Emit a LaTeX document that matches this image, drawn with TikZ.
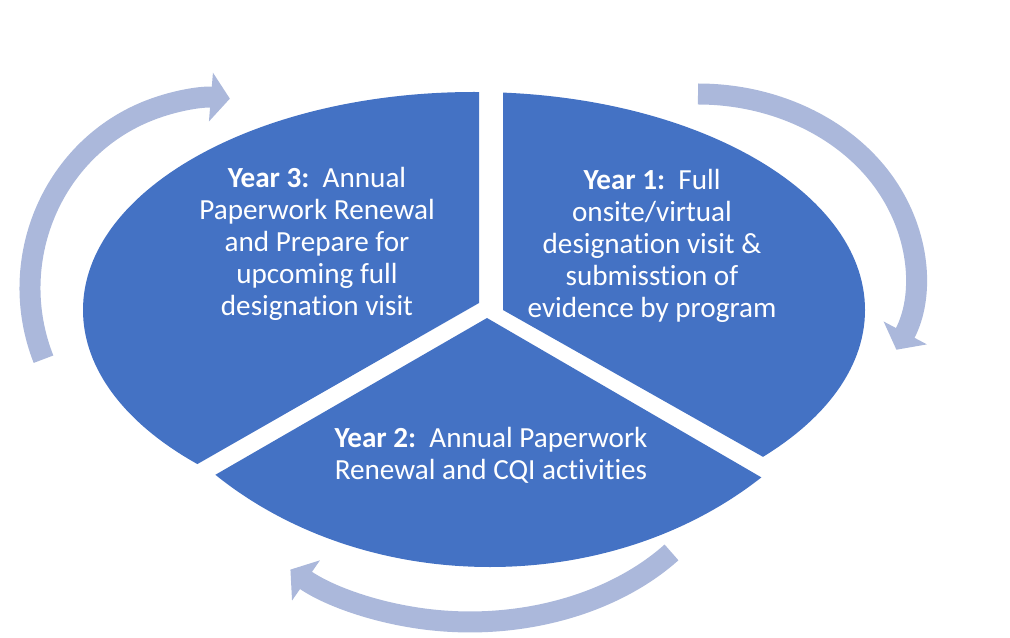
\documentclass[tikz,border=0pt]{standalone}
\usepackage{fontspec}
\setmainfont[Ligatures=NoCommon]{Carlito}
\usepackage{tikz}
\usetikzlibrary{arrows.meta}
\definecolor{yrblue}{RGB}{68,114,196}
\definecolor{yrtint}{RGB}{171,184,219}
\tikzset{
  yrpiece/.style={fill=yrblue},
  yrarrow/.style={draw=yrtint, line width=4.2mm, -{Triangle[width=9.6mm,length=3.8mm]}},
  yrlabel/.style={text=white, align=center, inner sep=0pt, font=\fontsize{16.6}{18.2}\selectfont}
}
\begin{document}
\begin{tikzpicture}[x=0.02cm,y=-0.02cm]
  \useasboundingbox (0,0) rectangle (1010,638);
  \begin{scope}
    \clip (479,0) -- (479,303) -- (-63,613) -- (-100,613) -- (-100,0) -- cycle;
    \fill[yrpiece] (474,310) ellipse [x radius=391, y radius=218];
  \end{scope}
  \begin{scope}
    \clip (503,0) -- (503,310) -- (1027,606) -- (1100,606) -- (1100,0) -- cycle;
    \fill[yrpiece] (474,310) ellipse [x radius=391, y radius=218];
  \end{scope}
  \begin{scope}
    \clip (487,318) -- (-57,632) -- (-57,700) -- (1031,700) -- (1031,634) -- cycle;
    \fill[yrpiece] (490,247) ellipse [x radius=391, y radius=320];
  \end{scope}
  \coordinate (a3s) at (43.5,359.2);
  \coordinate (a1s) at (698,94);
  \coordinate (a2s) at (671.5,552.4);
  \draw[yrarrow] (a3s) arc [start angle=158, end angle=274.6, x radius=185, y radius=190];
  \draw[yrarrow] (a1s) arc [start angle=-90, end angle=23.9, x radius=217, y radius=182];
  \draw[yrarrow] (a2s) arc [start angle=39.2, end angle=133.7, x radius=260, y radius=189];
  \node[yrlabel] (yr3) at (317,244) {\textbf{Year 3:}\ \ Annual\\Paperwork Renewal\\and Prepare for\\upcoming full\\designation visit};
  \node[yrlabel] (yr1) at (652,246) {\textbf{Year 1:}\ \ Full\\onsite/virtual\\designation visit \&\\submisstion of\\evidence by program};
  \node[yrlabel] (yr2) at (491,455) {\textbf{Year 2:}\ \ Annual Paperwork\\Renewal and CQI activities};
\end{tikzpicture}
\end{document}
